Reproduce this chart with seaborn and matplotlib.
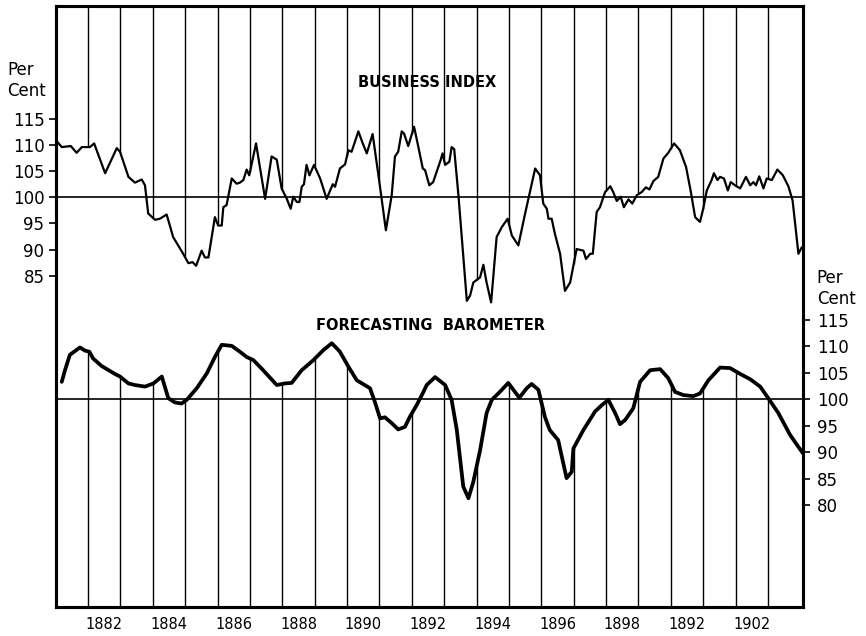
import numpy as np
import matplotlib
matplotlib.use("Agg")
import matplotlib.pyplot as plt
import seaborn as sns

sns.set_style("ticks")
plt.rcParams['font.family'] = ['DejaVu Sans']
plt.rcParams['text.color'] = 'black'
plt.rcParams['xtick.color'] = 'black'
plt.rcParams['ytick.color'] = 'black'
plt.rcParams['axes.edgecolor'] = 'black'

# Business index (upper curve)
bus_year = [1881.00, 1881.19, 1881.47, 1881.65, 1881.81, 1882.06, 1882.19, 1882.53, 1882.89, 1882.99,
            1883.25, 1883.45, 1883.66, 1883.76, 1883.86, 1884.07, 1884.22, 1884.43, 1884.63, 1884.94,
            1885.10, 1885.23, 1885.34, 1885.51, 1885.61, 1885.72, 1885.92, 1886.02, 1886.13, 1886.18,
            1886.28, 1886.44, 1886.59, 1886.69, 1886.80, 1886.90, 1886.98, 1887.19, 1887.47, 1887.67,
            1887.83, 1887.98, 1888.14, 1888.26, 1888.34, 1888.45, 1888.53, 1888.60, 1888.67, 1888.75,
            1888.84, 1888.98, 1889.17, 1889.37, 1889.56, 1889.63, 1889.78, 1889.94, 1890.04, 1890.14,
            1890.35, 1890.48, 1890.61, 1890.79, 1890.97, 1891.20, 1891.38, 1891.48, 1891.58, 1891.69,
            1891.76, 1891.89, 1892.07, 1892.20, 1892.34, 1892.41, 1892.54, 1892.66, 1892.89, 1892.95,
            1893.03, 1893.16, 1893.23, 1893.31, 1893.44, 1893.70, 1893.80, 1893.90, 1894.11, 1894.21,
            1894.31, 1894.45, 1894.62, 1894.78, 1894.96, 1895.09, 1895.29, 1895.50, 1895.81, 1895.96,
            1896.06, 1896.17, 1896.22, 1896.32, 1896.42, 1896.58, 1896.73, 1896.89, 1897.09, 1897.30,
            1897.38, 1897.51, 1897.59, 1897.71, 1897.81, 1897.97, 1898.13, 1898.22, 1898.33, 1898.45,
            1898.55, 1898.69, 1898.81, 1898.95, 1899.10, 1899.23, 1899.34, 1899.46, 1899.61, 1899.77,
            1899.92, 1900.10, 1900.28, 1900.47, 1900.61, 1900.75, 1900.90, 1901.00, 1901.11, 1901.26,
            1901.33, 1901.44, 1901.52, 1901.64, 1901.76, 1901.85, 1901.98, 1902.14, 1902.32, 1902.45,
            1902.55, 1902.63, 1902.73, 1902.86, 1902.96, 1903.12, 1903.29, 1903.46, 1903.63, 1903.76,
            1903.94, 1904.04]
bus_value = [111.0, 109.6, 109.8, 108.5, 109.6, 109.6, 110.3, 104.6, 109.4, 108.7,
             103.9, 102.8, 103.4, 102.3, 96.9, 95.7, 95.9, 96.7, 92.4, 89.2,
             87.4, 87.6, 86.9, 89.8, 88.5, 88.5, 96.2, 94.6, 94.6, 98.1,
             98.5, 103.6, 102.6, 102.8, 103.3, 105.3, 104.2, 110.3, 99.7, 107.8,
             107.2, 101.7, 99.7, 97.8, 100.1, 99.1, 99.1, 102.0, 102.5, 106.2,
             104.2, 106.2, 103.6, 99.7, 102.5, 102.0, 105.5, 106.3, 109.0, 108.7,
             112.6, 110.4, 108.4, 112.1, 104.2, 93.7, 100.4, 107.8, 108.7, 112.6,
             112.2, 109.8, 113.5, 109.7, 105.5, 105.2, 102.3, 102.9, 107.1, 108.4,
             106.2, 106.8, 109.6, 109.2, 100.4, 80.2, 81.2, 83.7, 84.7, 87.1,
             83.7, 79.9, 92.4, 94.3, 95.9, 92.7, 90.8, 96.9, 105.5, 104.2,
             98.8, 97.8, 95.9, 95.9, 93.0, 89.2, 82.1, 83.7, 90.1, 89.8,
             88.2, 89.2, 89.2, 97.2, 98.1, 101.0, 102.1, 101.0, 99.3, 100.1,
             98.1, 99.6, 98.8, 100.4, 101.0, 101.9, 101.5, 103.1, 103.9, 107.4,
             108.5, 110.3, 109.0, 105.8, 101.3, 96.2, 95.3, 97.8, 101.3, 103.3,
             104.6, 103.3, 103.9, 103.6, 101.3, 102.9, 102.3, 101.7, 103.9, 102.3,
             102.9, 102.3, 104.0, 101.7, 103.6, 103.3, 105.3, 104.2, 102.1, 99.4,
             89.2, 90.4]

# Forecasting barometer (lower curve)
bar_year = [1881.19, 1881.29, 1881.44, 1881.75, 1881.91, 1882.04, 1882.16, 1882.42, 1882.83, 1882.99,
            1883.25, 1883.45, 1883.76, 1884.02, 1884.28, 1884.48, 1884.69, 1884.89, 1885.05, 1885.36,
            1885.67, 1885.92, 1886.13, 1886.44, 1886.69, 1886.90, 1887.11, 1887.41, 1887.83, 1888.08,
            1888.29, 1888.60, 1888.96, 1889.27, 1889.53, 1889.78, 1890.04, 1890.30, 1890.71, 1890.86,
            1891.02, 1891.17, 1891.38, 1891.58, 1891.79, 1891.94, 1892.15, 1892.36, 1892.46, 1892.72,
            1893.03, 1893.23, 1893.39, 1893.59, 1893.75, 1893.90, 1894.11, 1894.31, 1894.47, 1894.72,
            1894.98, 1895.32, 1895.55, 1895.70, 1895.91, 1896.11, 1896.26, 1896.52, 1896.78, 1896.94,
            1896.99, 1897.30, 1897.66, 1897.87, 1898.07, 1898.28, 1898.43, 1898.59, 1898.84, 1899.05,
            1899.36, 1899.67, 1899.92, 1900.13, 1900.39, 1900.69, 1900.90, 1901.16, 1901.52, 1901.83,
            1902.14, 1902.45, 1902.76, 1903.01, 1903.32, 1903.68, 1903.94, 1904.08]
bar_value = [103.3, 105.5, 108.4, 109.8, 109.2, 109.0, 107.7, 106.3, 104.8, 104.3,
             103.0, 102.7, 102.4, 103.0, 104.3, 100.2, 99.4, 99.2, 99.9, 102.1,
             104.9, 108.0, 110.3, 110.1, 109.0, 108.0, 107.4, 105.5, 102.7, 103.0,
             103.1, 105.5, 107.4, 109.3, 110.6, 109.0, 106.2, 103.6, 102.1, 99.5,
             96.4, 96.6, 95.5, 94.3, 94.8, 96.7, 98.9, 101.4, 102.7, 104.2,
             102.7, 99.9, 94.2, 83.5, 81.3, 84.4, 90.4, 97.4, 99.9, 101.4,
             103.1, 100.3, 102.1, 102.9, 101.8, 96.7, 94.2, 92.3, 85.1, 86.3,
             90.7, 94.2, 97.7, 98.9, 99.9, 97.4, 95.3, 96.1, 98.3, 103.3,
             105.5, 105.7, 104.0, 101.4, 100.8, 100.6, 101.1, 103.6, 106.0, 105.9,
             104.8, 103.8, 102.4, 100.2, 97.4, 93.3, 91.0, 89.8]

year_lines = list(range(1882, 1904))
label_years = [1882, 1884, 1886, 1888, 1890, 1892, 1894, 1896, 1898, 1900, 1902]
label_text = ['1882', '1884', '1886', '1888', '1890', '1892', '1894', '1896', '1898', '1892', '1902']
left_ticks = [85, 90, 95, 100, 105, 110, 115]
right_ticks = [80, 85, 90, 95, 100, 105, 110, 115]

fig = plt.figure(figsize=(8.66, 6.36), dpi=100)
ax = fig.add_axes([0.0642, 0.0456, 0.863, 0.945])
ax2 = ax.twinx()

xlim = (1881, 1904.08)
bus_lim = (21.66, 136.58)
bar_lim = (60.74, 174.35)

# curves
sns.lineplot(x=bus_year, y=bus_value, ax=ax, color='black', lw=1.6, sort=False)
sns.lineplot(x=bar_year, y=bar_value, ax=ax2, color='black', lw=2.7, sort=False)

# 100 per cent base lines
ax.axhline(100, color='black', lw=1.2)
ax2.axhline(100, color='black', lw=1.2)

# year lines: from top down to the business index, from the barometer down to the bottom
ax.vlines(year_lines, np.interp(year_lines, bus_year, bus_value), bus_lim[1], color='black', lw=1.0)
ax2.vlines(year_lines, bar_lim[0], np.interp(year_lines, bar_year, bar_value), color='black', lw=1.0)

ax.set_xlim(*xlim)
ax.set_ylim(*bus_lim)
ax2.set_ylim(*bar_lim)

ax.set_xticks([y + 0.5 for y in label_years])
ax.set_xticklabels(label_text)
ax.set_yticks(left_ticks)
ax2.set_yticks(right_ticks)
ax.tick_params(axis='x', length=0, pad=7, labelsize=10.5)
ax.tick_params(axis='y', direction='out', length=5, width=1.2, pad=3, labelsize=12)
ax2.tick_params(axis='y', direction='out', length=5, width=1.2, pad=5, labelsize=12)
ax.set_xlabel('')
ax.set_ylabel('')
ax2.set_ylabel('')

for a in (ax, ax2):
    for s in a.spines.values():
        s.set_visible(True)
        s.set_linewidth(2.2)
        s.set_color('black')

ax.text(0.497, 0.8735, 'BUSINESS INDEX', transform=ax.transAxes, ha='center', va='center',
        fontsize=10.5, fontweight='bold')
ax.text(0.502, 0.469, 'FORECASTING  BAROMETER', transform=ax.transAxes, ha='center', va='center',
        fontsize=10.5, fontweight='semibold')

fig.text(0.008, 0.874, 'Per\nCent', ha='left', va='center', fontsize=12, linespacing=1.2)
fig.text(0.943, 0.547, 'Per\nCent', ha='left', va='center', fontsize=12, linespacing=1.2)

fig.savefig('out.png', dpi=100)
